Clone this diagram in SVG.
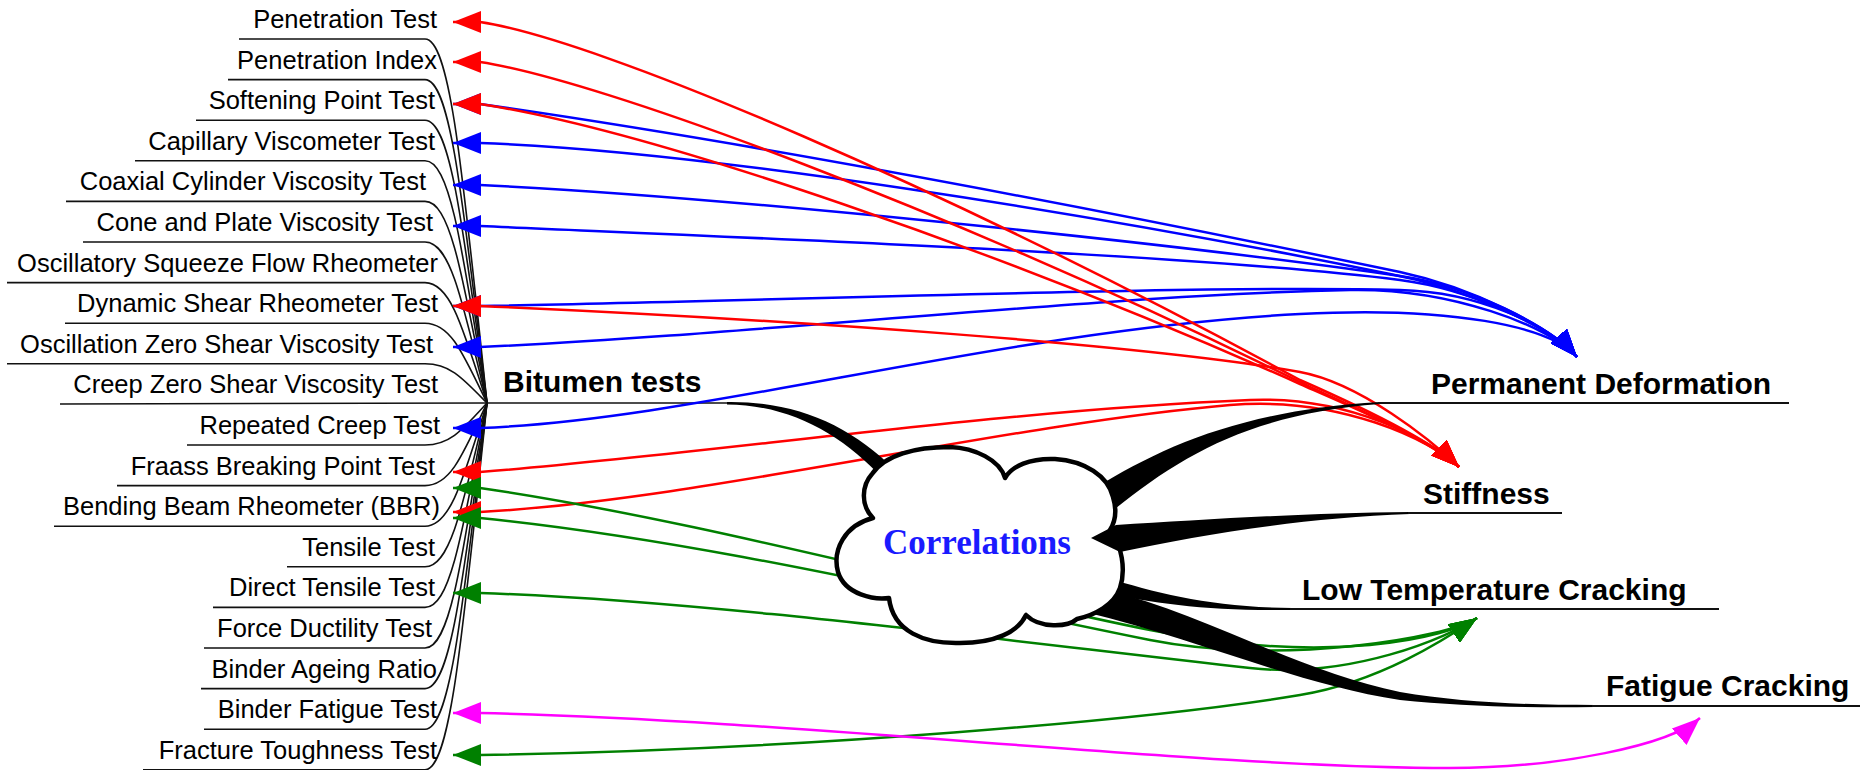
<svg xmlns="http://www.w3.org/2000/svg" width="1860" height="770" viewBox="0 0 1860 770">
<style>
  .lbl { font-family: "Liberation Sans", Arial, sans-serif; font-size: 25.5px; fill: #000; text-anchor: end; }
  .node { font-family: "Liberation Sans", Arial, sans-serif; font-size: 30px; font-weight: bold; fill: #000; }
  .corr { font-family: "Liberation Serif", "Times New Roman", serif; font-size: 35px; font-weight: bold; fill: #1a1aff; }
  .tie { fill: none; stroke: #111; stroke-width: 1.6; }
  .ul { fill: none; stroke: #111; stroke-width: 2; }
  .band { fill: #000; stroke: none; }
  .r { fill: none; stroke: #ff0000; stroke-width: 2.5; marker-start: url(#mr); marker-end: url(#mr); }
  .b { fill: none; stroke: #0000ff; stroke-width: 2.5; marker-start: url(#mb); marker-end: url(#mb); }
  .g { fill: none; stroke: #008000; stroke-width: 2.5; marker-start: url(#mg); marker-end: url(#mg); }
  .m { fill: none; stroke: #ff00ff; stroke-width: 2.5; marker-start: url(#mm); marker-end: url(#mm); }
</style>
<defs>
  <marker id="mr" viewBox="0 0 28 22" refX="28" refY="11" markerWidth="28" markerHeight="22" markerUnits="userSpaceOnUse" orient="auto-start-reverse"><path d="M0,0 L28,11 L0,22 z" fill="#ff0000"/></marker>
  <marker id="mb" viewBox="0 0 28 22" refX="28" refY="11" markerWidth="28" markerHeight="22" markerUnits="userSpaceOnUse" orient="auto-start-reverse"><path d="M0,0 L28,11 L0,22 z" fill="#0000ff"/></marker>
  <marker id="mg" viewBox="0 0 28 22" refX="28" refY="11" markerWidth="28" markerHeight="22" markerUnits="userSpaceOnUse" orient="auto-start-reverse"><path d="M0,0 L28,11 L0,22 z" fill="#008000"/></marker>
  <marker id="mm" viewBox="0 0 28 22" refX="28" refY="11" markerWidth="28" markerHeight="22" markerUnits="userSpaceOnUse" orient="auto-start-reverse"><path d="M0,0 L28,11 L0,22 z" fill="#ff00ff"/></marker>
</defs>
<rect width="1860" height="770" fill="#fff"/>

<!-- label ties (tree branches to hub) -->
<g id="ties">
  <path class="tie" d="M239,39 H425 C450,39 462,166.4 487,403"/>
  <path class="tie" d="M228,79.6 H425 C450,79.6 462,192.8 487,403"/>
  <path class="tie" d="M196,120.2 H425 C450,120.2 462,219.2 487,403"/>
  <path class="tie" d="M135,160.8 H425 C450,160.8 462,245.6 487,403"/>
  <path class="tie" d="M66,201.4 H425 C450,201.4 462,272 487,403"/>
  <path class="tie" d="M83,242 H425 C450,242 462,298.4 487,403"/>
  <path class="tie" d="M7,282.6 H425 C450,282.6 462,324.7 487,403"/>
  <path class="tie" d="M65,323.2 H425 C450,323.2 462,351.1 487,403"/>
  <path class="tie" d="M7,363.8 H425 C450,363.8 462,377.5 487,403"/>
  <path class="tie" d="M60,404 L487,403"/>
  <path class="tie" d="M187,445 H425 C450,445 462,430.3 487,403"/>
  <path class="tie" d="M117,485.6 H425 C450,485.6 462,456.7 487,403"/>
  <path class="tie" d="M54,526.2 H425 C450,526.2 462,483.1 487,403"/>
  <path class="tie" d="M287,566.8 H425 C450,566.8 462,509.5 487,403"/>
  <path class="tie" d="M213,607.4 H425 C450,607.4 462,535.9 487,403"/>
  <path class="tie" d="M204,648 H425 C450,648 462,562.2 487,403"/>
  <path class="tie" d="M201,688.6 H425 C450,688.6 462,588.6 487,403"/>
  <path class="tie" d="M204,729.2 H425 C450,729.2 462,615 487,403"/>
  <path class="tie" d="M143,769.8 H425 C450,769.8 462,641.4 487,403"/>
  <path class="tie" d="M487,403 H727"/>
</g>

<!-- left test nodes -->
<g id="n-pen"><text class="lbl" x="437" y="28">Penetration Test</text></g>
<g id="n-pi"><text class="lbl" x="437" y="68.6">Penetration Index</text></g>
<g id="n-sp"><text class="lbl" x="435" y="109">Softening Point Test</text></g>
<g id="n-cap"><text class="lbl" x="435" y="150">Capillary Viscometer Test</text></g>
<g id="n-coax"><text class="lbl" x="426" y="190.4">Coaxial Cylinder Viscosity Test</text></g>
<g id="n-cone"><text class="lbl" x="433" y="231">Cone and Plate Viscosity Test</text></g>
<g id="n-osf"><text class="lbl" x="438" y="271.6">Oscillatory Squeeze Flow Rheometer</text></g>
<g id="n-dsr"><text class="lbl" x="438" y="312">Dynamic Shear Rheometer Test</text></g>
<g id="n-ozsv"><text class="lbl" x="433" y="352.8">Oscillation Zero Shear Viscosity Test</text></g>
<g id="n-czsv"><text class="lbl" x="438" y="393.4">Creep Zero Shear Viscosity Test</text></g>
<g id="n-rc"><text class="lbl" x="440" y="434">Repeated Creep Test</text></g>
<g id="n-fr"><text class="lbl" x="435" y="474.6">Fraass Breaking Point Test</text></g>
<g id="n-bbr"><text class="lbl" x="440" y="515">Bending Beam Rheometer (BBR)</text></g>
<g id="n-ten"><text class="lbl" x="435" y="556">Tensile Test</text></g>
<g id="n-dt"><text class="lbl" x="435" y="596.4">Direct Tensile Test</text></g>
<g id="n-fd"><text class="lbl" x="432" y="637">Force Ductility Test</text></g>
<g id="n-bar"><text class="lbl" x="437" y="677.6">Binder Ageing Ratio</text></g>
<g id="n-bft"><text class="lbl" x="437" y="718">Binder Fatigue Test</text></g>
<g id="n-ftt"><text class="lbl" x="437" y="758.8">Fracture Toughness Test</text></g>

<!-- colored correlation connectors -->
<g id="connectors">
  <!-- blue to Permanent Deformation -->
  <path class="b" d="M453,104 L480,104 C800,150 1150,220 1400,272 C1470,287 1550,326 1577,357"/>
  <path class="b" d="M453,143 L480,143 C700,150 1100,215 1390,274 C1465,288 1550,326 1577,357"/>
  <path class="b" d="M453,185 L480,185 C700,195 1150,240 1400,276 C1470,286 1550,326 1577,357"/>
  <path class="b" d="M453,226 L480,226 C800,240 1200,255 1400,280 C1470,289 1550,326 1577,357"/>
  <path class="b" d="M453,306 L480,306 C800,300 1200,285 1400,290 C1480,292 1550,326 1577,357"/>
  <path class="b" d="M453,347 L480,347 C750,335 1100,295 1350,290 C1450,288 1550,326 1577,357"/>
  <path class="b" d="M453,428 L480,428 C700,420 1000,330 1300,314 C1450,306 1550,326 1577,357"/>
  <!-- red to Stiffness -->
  <path class="r" d="M453,22 L480,22 C600,40 950,190 1300,380 C1350,402 1431,440 1459,467"/>
  <path class="r" d="M453,62 L480,62 C600,80 950,210 1300,382 C1350,406 1431,440 1459,467"/>
  <path class="r" d="M453,104 L480,104 C650,130 1000,250 1300,384 C1350,406 1431,440 1459,467"/>
  <path class="r" d="M453,306 L480,306 C800,320 1150,345 1300,372 C1360,383 1431,440 1459,467"/>
  <path class="r" d="M453,472 L480,472 C700,455 1000,410 1250,400 C1350,396 1431,440 1459,467"/>
  <path class="r" d="M453,512 L480,512 C700,500 1000,425 1230,405 C1340,396 1431,440 1459,467"/>
  <!-- green to Low Temperature Cracking -->
  <path class="g" d="M453,488 L480,488 C700,520 950,590 1150,630 C1330,666 1447,638 1477,618"/>
  <path class="g" d="M453,518 L480,518 C700,540 950,600 1150,640 C1280,666 1447,638 1477,618"/>
  <path class="g" d="M453,593 L480,593 C700,600 1000,640 1250,668 C1350,679 1447,638 1477,618"/>
  <path class="g" d="M453,755 L480,755 C800,750 1150,720 1300,695 C1380,682 1447,638 1477,618"/>
  <!-- magenta to Fatigue Cracking -->
  <path class="m" d="M453,713 L480,713 C800,720 1200,768 1450,768 C1560,768 1670,745 1700,718"/>
</g>

<!-- heavy black links that run under the cloud outline -->
<g id="links">
  <path class="band" d="M727,402 C795,401 850,425 895,470 L884,480 C842,434 790,405 727,404.5 Z"/>
  <path class="band" d="M1095,488 C1165,445 1245,410 1380,402 L1380,404 C1250,414 1180,455 1105,517 Z"/>
  <path class="band" d="M1104,577 C1160,594 1210,607 1292,608 L1292,610 C1210,611 1155,604 1102,592 Z"/>
  <path class="band" d="M1106,590 C1200,612 1300,672 1400,692 C1460,702 1520,705 1595,705 L1595,707 C1520,708 1460,706 1400,700 C1300,685 1200,640 1085,612 Z"/>
</g>

<!-- Correlations cloud -->
<g id="correlations">
  <path d="M873,518 C860,505 862,485 872,474 C885,455 915,447 950,447 C975,448 1000,460 1005,478 C1012,466 1030,458 1055,459 C1085,461 1108,476 1113,497 C1117,510 1115,522 1110,530 C1122,545 1126,570 1120,588 C1114,605 1095,615 1077,619 C1068,627 1040,629 1026,615 C1018,632 995,643 960,643 C925,644 893,632 889,598 C875,600 845,595 838,572 C832,550 845,525 873,518 Z" fill="#fff" stroke="#000" stroke-width="4.5" stroke-linejoin="round"/>
  <text class="corr" x="883" y="554">Correlations</text>
</g>

<!-- wedge link to Stiffness, drawn over the cloud edge -->
<g id="link-stiffness">
  <path class="band" d="M1091,538 L1116,525 C1200,520 1300,513 1410,512 L1410,514 C1300,518 1200,535 1120,552 Z"/>
</g>

<!-- right nodes -->
<g id="n-bitumen"><text class="node" x="503" y="392">Bitumen tests</text></g>
<g id="n-pd"><text class="node" x="1431" y="394">Permanent Deformation</text><path class="ul" d="M1378,403 H1789"/></g>
<g id="n-stiff"><text class="node" x="1423" y="504">Stiffness</text><path class="ul" d="M1408,513 H1562"/></g>
<g id="n-ltc"><text class="node" x="1302" y="600">Low Temperature Cracking</text><path class="ul" d="M1290,609 H1719"/></g>
<g id="n-fc"><text class="node" x="1606" y="696">Fatigue Cracking</text><path class="ul" d="M1592,706 H1860"/></g>
</svg>
